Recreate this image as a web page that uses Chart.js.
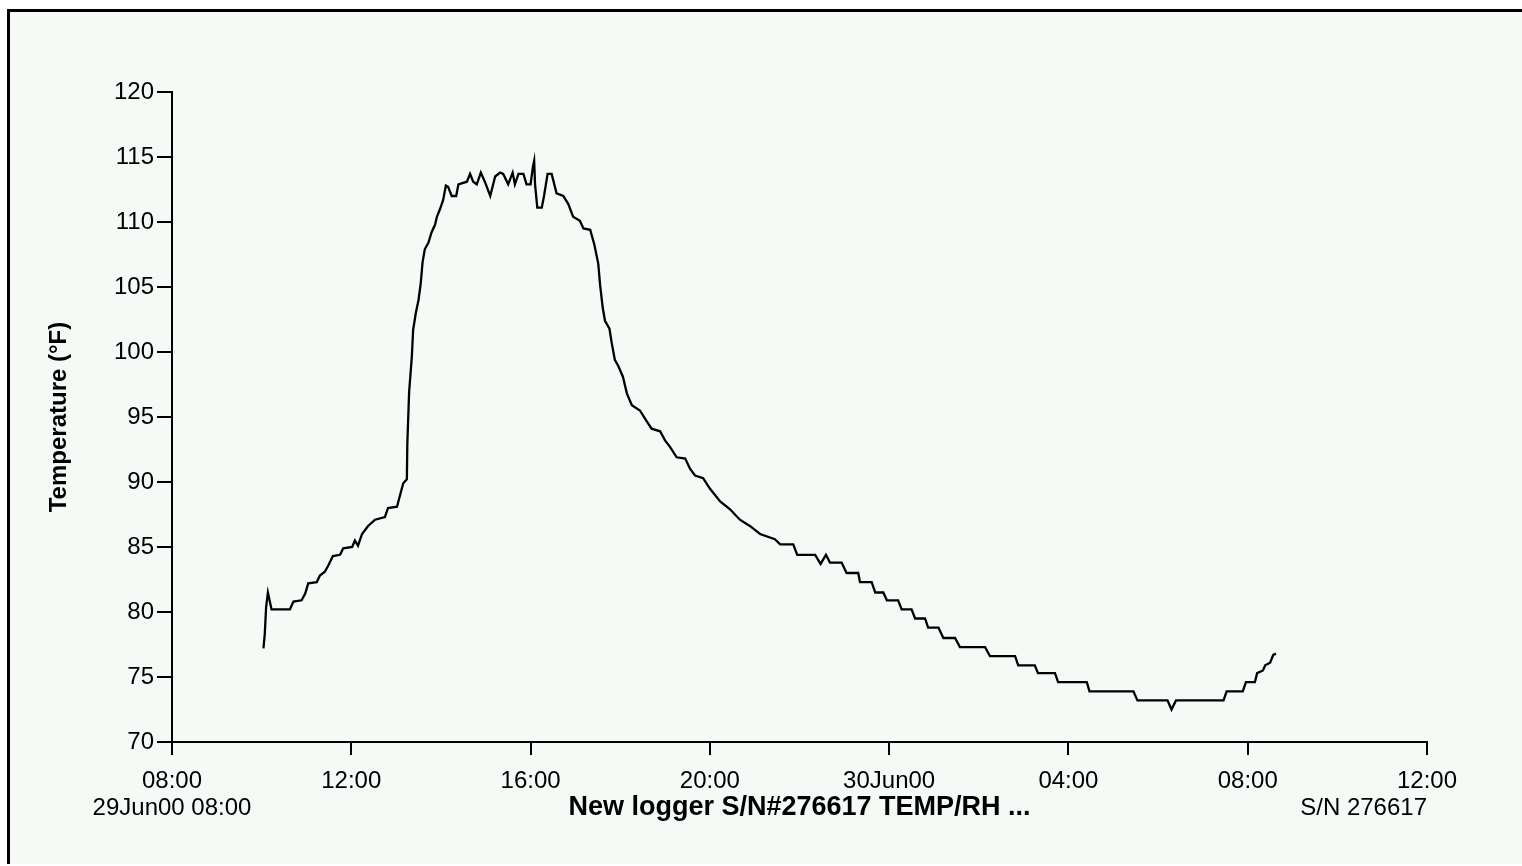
<!DOCTYPE html>
<html>
<head>
<meta charset="utf-8">
<script src="https://cdn.jsdelivr.net/npm/chart.js@4.4.1/dist/chart.umd.min.js"></script>
<style>
  html, body { margin: 0; padding: 0; background: #fff; width: 1522px; height: 866px; overflow: hidden; }
  #frame { position: absolute; left: 7px; top: 9px; right: 0; bottom: 2px; border-left: 3px solid #000; border-top: 3px solid #000; background: #f5faf7; }
  #wrap { position: absolute; left: 0; top: 0; width: 1522px; height: 866px; }
  #chart { display: block; width: 1522px; height: 866px; }
</style>
</head>
<body>
<div id="frame"></div>
<div id="wrap"><canvas id="chart" width="1522" height="866"></canvas></div>
<script>
// hours counted from 29Jun00 00:00
const timeHours = [
  10.04, 10.07, 10.10, 10.14, 10.19, 10.22, 10.63, 10.71, 10.89, 10.97,
  11.04, 11.23, 11.30, 11.41, 11.49, 11.59, 11.75, 11.82, 12.02, 12.08,
  12.15, 12.24, 12.37, 12.53, 12.75, 12.82, 13.02, 13.12, 13.16, 13.24,
  13.25, 13.29, 13.35, 13.38, 13.44, 13.50, 13.55, 13.59, 13.64, 13.72,
  13.79, 13.87, 13.91, 13.98, 14.05, 14.11, 14.16, 14.24, 14.34, 14.39,
  14.58, 14.65, 14.72, 14.80, 14.89, 14.98, 15.10, 15.21, 15.32, 15.39,
  15.50, 15.60, 15.65, 15.73, 15.84, 15.91, 16.00, 16.05, 16.08, 16.10,
  16.15, 16.25, 16.30, 16.38, 16.47, 16.58, 16.73, 16.84, 16.95, 17.10,
  17.18, 17.33, 17.42, 17.51, 17.55, 17.61, 17.66, 17.76, 17.81, 17.88,
  17.96, 18.06, 18.15, 18.26, 18.44, 18.55, 18.70, 18.89, 19.00, 19.11,
  19.26, 19.45, 19.56, 19.67, 19.85, 20.00, 20.23, 20.45, 20.67, 20.90,
  21.12, 21.45, 21.57, 21.86, 21.95, 22.35, 22.47, 22.59, 22.68, 22.94,
  23.05, 23.31, 23.35, 23.61, 23.69, 23.87, 23.95, 24.20, 24.28, 24.50,
  24.58, 24.80, 24.87, 25.10, 25.21, 25.47, 25.58, 26.14, 26.25, 26.81,
  26.88, 27.25, 27.32, 27.70, 27.77, 28.41, 28.47, 29.45, 29.54, 30.21,
  30.30, 30.40, 31.46, 31.53, 31.89, 31.96, 32.16, 32.21, 32.34, 32.39,
  32.50, 32.57, 32.63
];
const tempF = [
  77.2, 78.3, 80.4, 81.5, 80.7, 80.2, 80.2, 80.8, 80.9, 81.4,
  82.2, 82.3, 82.8, 83.1, 83.6, 84.3, 84.4, 84.9, 85.0, 85.5,
  85.1, 86.0, 86.6, 87.1, 87.3, 88.0, 88.1, 89.4, 89.9, 90.2,
  92.9, 96.9, 99.6, 101.7, 103.0, 104.0, 105.3, 106.9, 107.9, 108.4,
  109.2, 109.8, 110.4, 111.0, 111.7, 112.8, 112.7, 112.0, 112.0, 112.9,
  113.1, 113.7, 113.1, 112.9, 113.8, 113.1, 112.0, 113.5, 113.8, 113.7,
  112.9, 113.8, 112.9, 113.7, 113.7, 112.9, 112.9, 114.2, 114.7, 112.9,
  111.1, 111.1, 112.0, 113.7, 113.7, 112.2, 112.0, 111.4, 110.4, 110.1,
  109.5, 109.4, 108.3, 106.8, 105.2, 103.4, 102.4, 101.8, 100.7, 99.4,
  98.9, 98.1, 96.8, 95.9, 95.5, 94.9, 94.1, 93.9, 93.2, 92.7,
  91.9, 91.8, 91.0, 90.5, 90.3, 89.5, 88.5, 87.9, 87.1, 86.6,
  86.0, 85.6, 85.2, 85.2, 84.4, 84.4, 83.7, 84.4, 83.8, 83.8,
  83.0, 83.0, 82.3, 82.3, 81.5, 81.5, 80.9, 80.9, 80.2, 80.2,
  79.5, 79.5, 78.8, 78.8, 78.0, 78.0, 77.3, 77.3, 76.6, 76.6,
  75.9, 75.9, 75.3, 75.3, 74.6, 74.6, 73.9, 73.9, 73.2, 73.2,
  72.5, 73.2, 73.2, 73.9, 73.9, 74.6, 74.6, 75.3, 75.5, 75.9,
  76.1, 76.7, 76.8
];
const xTicks = [8, 12, 16, 20, 24, 28, 32, 36];
const yMin = 70, yMax = 120, yStep = 5;
const startLabel = '29Jun00 08:00';
const serialLabel = 'S/N 276617';
const xTitle = 'New logger S/N#276617 TEMP/RH ...';
const yTitle = 'Temperature (°F)';

const FONT = '"Liberation Sans", Arial, sans-serif';

function hourLabel(h) {
  if (h === 24) return '30Jun00';
  const hh = h % 24;
  return (hh < 10 ? '0' : '') + hh + ':00';
}

const footLabels = {
  id: 'footLabels',
  afterDraw(chart) {
    const ctx = chart.ctx;
    const xs = chart.scales.x;
    ctx.save();
    ctx.font = '24px ' + FONT;
    ctx.fillStyle = '#000';
    ctx.textBaseline = 'middle';
    ctx.textAlign = 'center';
    ctx.fillText(startLabel, xs.getPixelForValue(xTicks[0]), 808);
    ctx.textAlign = 'right';
    ctx.fillText(serialLabel, xs.right, 808);
    ctx.restore();
  }
};

new Chart(document.getElementById('chart'), {
  type: 'line',
  data: {
    datasets: [{
      data: timeHours.map((h, i) => ({ x: h, y: tempF[i] })),
      borderColor: '#000',
      borderWidth: 2.3,
      pointRadius: 0,
      tension: 0,
      fill: false
    }]
  },
  options: {
    responsive: false,
    animation: false,
    maintainAspectRatio: false,
    devicePixelRatio: 1,
    layout: { padding: { left: 0, top: 92, right: 95, bottom: 0 } },
    plugins: { legend: { display: false }, tooltip: { enabled: false } },
    scales: {
      x: {
        type: 'linear',
        min: 8,
        max: 36,
        afterFit(s) { s.height = 124; },
        afterBuildTicks(s) { s.ticks = xTicks.map(v => ({ value: v })); },
        ticks: {
          autoSkip: false,
          maxRotation: 0,
          padding: 12,
          color: '#000',
          font: { family: FONT, size: 24 },
          callback: v => hourLabel(v)
        },
        grid: { drawOnChartArea: false, drawTicks: true, tickLength: 13, color: '#000', lineWidth: 2 },
        border: { display: true, color: '#000', width: 2 },
        title: {
          display: true,
          text: xTitle,
          color: '#000',
          font: { family: FONT, size: 27, weight: 'bold' },
          padding: { top: 0, bottom: 42 }
        }
      },
      y: {
        min: yMin,
        max: yMax,
        afterFit(s) { s.width = 172; },
        ticks: {
          stepSize: yStep,
          padding: 3,
          color: '#000',
          font: { family: FONT, size: 24 }
        },
        grid: { drawOnChartArea: false, drawTicks: true, tickLength: 15, color: '#000', lineWidth: 2 },
        border: { display: true, color: '#000', width: 2 },
        title: {
          display: true,
          text: yTitle,
          color: '#000',
          font: { family: FONT, size: 24, weight: 'bold' },
          padding: { top: 45, bottom: 0 }
        }
      }
    }
  },
  plugins: [footLabels]
});
</script>
</body>
</html>
